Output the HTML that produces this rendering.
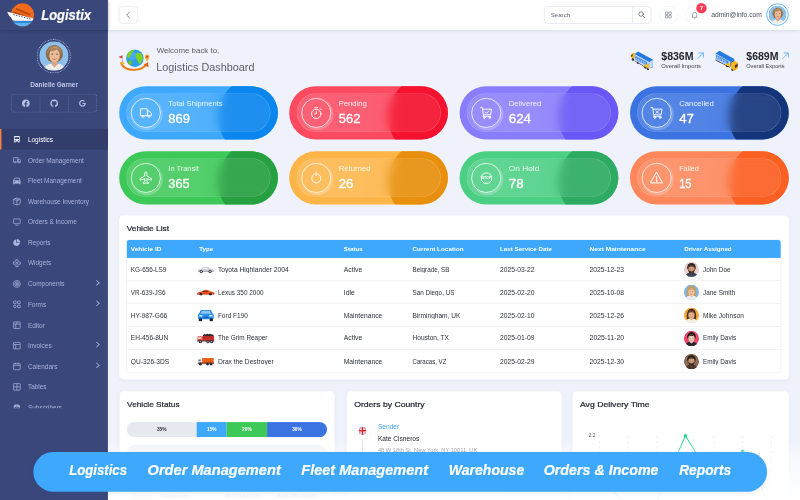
<!DOCTYPE html>
<html lang="en">
<head>
<meta charset="utf-8">
<title>Logistix - Logistics Dashboard</title>
<style>
*{box-sizing:border-box;margin:0;padding:0}
html,body{width:800px;height:500px;overflow:hidden;background:#eff2fb}
body{font-family:"Liberation Sans",sans-serif;color:#2b2f3a}
#stage{position:absolute;left:0;top:0;width:1920px;height:1200px;transform:scale(0.4166667);transform-origin:0 0;background:#eff2fb;overflow:hidden}
.abs{position:absolute}
u{text-decoration:none;display:inline-block;transform-origin:0 50%;white-space:nowrap}
u.ctr{transform-origin:50% 50%}
/* sidebar */
#sidebar{position:absolute;left:0;top:0;width:259.200px;height:1200px;background:#39477b;z-index:5}
#brand{position:absolute;left:0;top:0;width:259.200px;height:72px;box-shadow:0 3px 8px rgba(20,25,60,.35)}
#brand .name{position:absolute;left:99px;top:15px;line-height:40px;font-size:34px;-webkit-text-stroke:.5px #fff;font-weight:700;font-style:italic;color:#fff;}
#header{position:absolute;left:259.200px;top:0;width:1660.800px;height:72px;background:#fff;box-shadow:0 3px 10px rgba(120,130,170,.28);z-index:4}
.pring{position:absolute;left:88.300px;top:93.600px;width:82px;height:82px;border-radius:50%;border:2.600px dotted rgba(225,230,255,.85)}
.pface{position:absolute;left:94px;top:99.200px;width:70.800px;height:70.800px;border-radius:50%;overflow:hidden}
.pname{position:absolute;left:0;width:260px;top:191.200px;text-align:center;font-size:16.500px;font-weight:700;color:#c3caea;line-height:22px}
.social{position:absolute;left:27px;top:225px;width:206px;height:45px;border:2px dotted rgba(190,200,240,.32);border-radius:8px;display:flex}
.social span{flex:1;display:flex;align-items:center;justify-content:center;border-right:2px dotted rgba(190,200,240,.32)}
.social span:last-child{border-right:0}
.menuclip{position:absolute;left:0;top:309px;width:259.200px;height:671px;overflow:hidden}
.menu{list-style:none}
.menu li{position:relative;height:49.500px;display:flex;align-items:center;padding-left:30px;border-left:0 solid transparent;color:#a9b3de;font-size:15.500px}
.menu li svg{width:21px;height:21px;flex:none;position:relative;top:1px}
.menu li b{font-weight:400;margin-left:16px;white-space:nowrap;position:relative;top:1.500px}
.menu li.act{background:#323d6c;color:#fff;box-shadow:inset 3.500px 0 0 #f5813f}
.menu li.act b{font-weight:400}
.chev{position:absolute;left:227px;top:18px;width:10px;height:10px;border-right:2px solid #a9b3de;border-top:2px solid #a9b3de;transform:rotate(45deg)}
.tgl{position:absolute;left:26.3px;top:14.500px;width:45px;height:42px;border:1.500px solid #cdd3e3;border-radius:9px;display:flex;align-items:center;justify-content:center}
.search{position:absolute;left:1047.3px;top:14.500px;width:257px;height:42px;border:1.500px solid #c6cee2;border-radius:9px}
.search .ph{position:absolute;left:15px;top:0;line-height:39px;font-size:14.500px;color:#5d6272}
.search .sbtn{position:absolute;right:0;top:0;width:45px;height:39px;border-left:1.500px solid #cdd4e6;display:flex;align-items:center;justify-content:center}
.hbtn{position:absolute;top:14px;width:44px;height:44px;border-radius:50%;border:1.500px dashed #c6ccdb;display:flex;align-items:center;justify-content:center}
.badge{position:absolute;left:1411.8px;top:6.500px;width:25px;height:25px;border-radius:50%;background:#fb3e54;color:#fff;font-size:13px;font-weight:700;text-align:center;line-height:25px}
.mail{position:absolute;left:1448.3px;top:0;line-height:70px;font-size:15.500px;color:#4a4f5e;white-space:nowrap}
.uring{position:absolute;left:1579.8px;top:7.500px;width:54px;height:54px;border-radius:50%;border:2px solid #46a8f7;background:#fff}
.uface{position:absolute;left:1584.8px;top:12.500px;width:44px;height:44px;border-radius:50%;overflow:hidden}
#main{position:absolute;left:0;top:0;width:1920px;height:1200px}
.wb{position:absolute;left:376px;top:106px;font-size:18.500px;line-height:28px;color:#585d6a;white-space:nowrap}
.ld{position:absolute;left:375px;top:142px;font-size:27.500px;line-height:38px;color:#585d6a;white-space:nowrap}
.sv{position:absolute;top:116px;font-size:26.500px;font-weight:700;line-height:36px;color:#23262f;white-space:nowrap}
.sl{position:absolute;top:150px;font-size:13.500px;line-height:20px;color:#3a3e4a;white-space:nowrap}
.arr{position:absolute;top:112px;font-size:26px;line-height:36px;color:#3fa5f7;font-family:"DejaVu Sans",sans-serif}
.sc{position:absolute;width:381px;height:128px;border-radius:64px;overflow:hidden}
.sc .blob{position:absolute;left:237px;top:-25px;width:196px;height:196px;border-radius:50%}
.sc .glass{position:absolute;left:17.500px;top:17.500px;width:346px;height:93px;border-radius:47px;border:1.500px solid rgba(255,255,255,.28);background:linear-gradient(to right,rgba(255,255,255,.13) 0,rgba(255,255,255,.12) 45%,rgba(255,255,255,.08) 75%,rgba(255,255,255,.08) 100%);-webkit-backdrop-filter:blur(12px);backdrop-filter:blur(12px)}
.sc .ic{position:absolute;left:10px;top:10px;width:72px;height:72px;border-radius:50%;border:2.100px solid rgba(255,255,255,.9);box-shadow:2.500px 3px 0 2.500px rgba(255,255,255,.22);display:flex;align-items:center;justify-content:center}
.sc .tx{position:absolute;left:99.800px;top:10.500px;color:#fff;white-space:nowrap}
.sc .tx span{display:block;font-size:18.300px;line-height:26px;color:rgba(255,255,255,.88)}
.sc .tx strong{display:block;font-size:31.500px;line-height:40px;font-weight:400;-webkit-text-stroke:.800px #fff;margin-top:3.500px}
.c1{background:#3ea8fc}.c1 .blob{background:#0b86ee}
.c2{background:#fc4a61}.c2 .blob{background:#f4122e}
.c3{background:#8a7dfb}.c3 .blob{background:#6a58f6}
.c4{background:#3b74e2}.c4 .blob{background:#15357a}
.c5{background:#3dc958}.c5 .blob{background:#26a041}
.c6{background:#fdb548}.c6 .blob{background:#e8900d}
.c7{background:#4bcf83}.c7 .blob{background:#2dab62}
.c8{background:#fd865a}.c8 .blob{background:#fb5f22}
.card{position:absolute;background:#fff;border-radius:10px;box-shadow:0 2px 8px rgba(150,160,200,.10)}
.ct{position:absolute;left:18px;top:17px;font-size:19px;font-weight:400;-webkit-text-stroke:.550px #23262f;line-height:28px;color:#23262f;white-space:nowrap}
.tcard{left:285.600px;top:517px;width:1608px;height:394px}
.tbl{position:absolute;left:17px;top:58px;width:1572.500px;height:319.500px;border:1.500px solid #dfe3ec;border-radius:8px;overflow:hidden}
.th{position:relative;height:42.500px;background:#3ea8fc;color:#fff;font-weight:700;font-size:15px}
.tr{position:relative;height:55.100px;border-bottom:1.500px solid #dfe3ec;font-size:15.800px;color:#2d303a}
.tr:last-child{border-bottom:0}
.th span,.tr span{position:absolute;top:0;height:100%;display:flex;align-items:center;white-space:nowrap}
.k1{left:10.500px}.k2{left:174px}.k3{left:521px}.k4{left:686px}.k5{left:896px}.k6{left:1111px}.k7{left:1338px}
.tr span{padding-top:2.400px}
.car{display:inline-flex;width:42px;height:30px;align-items:center;justify-content:center;margin-right:8px;margin-left:-5px}
.av{display:inline-block;width:37px;height:37px;border-radius:50%;overflow:hidden;margin-right:9px;margin-left:-.500px}
.pbar{position:absolute;left:17.500px;top:74px;width:481px;height:36px;border-radius:18px;overflow:hidden;display:flex}
.pbar span{display:block;height:36px;line-height:36px;text-align:center;color:#fff;font-size:11.500px;font-weight:700}
.gbox{position:absolute;left:17.500px;top:128px;width:481px;height:200px;border-radius:24px;background:#f0f2f6}
.flag{position:absolute;left:18px;top:75px;width:41px;height:41px;border-radius:50%;border:1.500px dashed #d3d8e4;display:flex;align-items:center;justify-content:center;background:#fff}
.vline{position:absolute;left:37.500px;top:116px;width:1.500px;height:200px;background:#d9dde8}
.o1{position:absolute;left:75px;top:74px;font-size:15.300px;line-height:22px;color:#3ea0f5;white-space:nowrap}
.o2{position:absolute;left:75px;top:103px;font-size:15.300px;line-height:22px;color:#23262f;white-space:nowrap}
.o3{position:absolute;left:75px;top:132px;font-size:13.800px;line-height:20px;color:#7a7f8c;white-space:nowrap}
.fade{position:absolute;left:260px;top:1056px;width:1660px;height:144px;background:linear-gradient(to bottom,rgba(255,255,255,0) 0,rgba(255,255,255,.5) 28%,rgba(255,255,255,.88) 80%,rgba(255,255,255,.93) 100%);z-index:3}
.gbox .gi{position:absolute;left:14px;top:96px;width:50px;height:50px;border-radius:50%;background:#fbd3da}
.gbox span{position:absolute;top:112px;font-size:15px;line-height:22px;color:#5d6272;white-space:nowrap}
#banner{position:absolute;left:79.500px;top:1085px;width:1761px;height:95px;border-radius:48px;background:#3ea8fc;z-index:10;color:#fff;font-size:34.500px;-webkit-text-stroke:.500px #fff;font-weight:700;font-style:italic;white-space:nowrap;box-shadow:0 4px 10px rgba(60,90,160,.10)}
#banner span{position:absolute;top:0;line-height:89px}

</style>
</head>
<body>
<div id="stage">
<div id="sidebar">
  <div id="brand">
    <svg class="abs" style="left:17px;top:6px" width="68" height="60" viewBox="0 0 68 60">
      <defs><clipPath id="lgc"><circle cx="37" cy="29.500" r="27.700"/></clipPath></defs>
      <g clip-path="url(#lgc)">
        <rect x="0" y="0" width="68" height="60" fill="#f26a1b"/>
        <path d="M22 13l34 14v5L20 17z" fill="#b8470c"/>
        <path d="M16 21l44 17v4L14 25z" fill="#b8470c"/>
        <rect x="0" y="43" width="68" height="7" fill="#2b86dc"/>
        <rect x="0" y="49" width="68" height="12" fill="#58b4f5"/>
        <path d="M0 22L66 39v5H19Q6 41 0 22z" fill="#fff"/>
        <path d="M9 27.500L58 40" stroke="#39457a" stroke-width="2.200" stroke-dasharray="3.500 3"/>
      </g>
      <path d="M0 22L14 25.600 12 38Q4 33 0 22z" fill="#fff"/>
    </svg>
    <div class="name"><u style="transform:scaleX(0.9151)">Logistix</u></div>
  </div>
  <div class="pring"></div>
  <div class="pface">
    <svg width="70.800" height="70.800" viewBox="0 0 70 70"><circle cx="35" cy="35" r="35" fill="#8ec0ec"/>
      <ellipse cx="36" cy="30" rx="20.500" ry="21" fill="#8c6c4a"/>
      <path d="M30 46h13v12l-6.500 5L30 58z" fill="#dca381"/>
      <ellipse cx="36.500" cy="33.500" rx="12.500" ry="16.500" fill="#ebbc98"/>
      <path d="M19 34Q17 12 36 10Q56 11 54 33Q50 22 44 19Q34 25 25 22Q21 26 19 34z" fill="#a98459"/>
      <path d="M28 17Q37 11 46 17Q37 15 28 17z" fill="#c9aa7c"/>
      <ellipse cx="31" cy="30.500" rx="2" ry="1.300" fill="#4a3628"/><ellipse cx="42.500" cy="30.500" rx="2" ry="1.300" fill="#4a3628"/>
      <path d="M30 39.500Q36.500 48 43.500 39.500Q36.500 42 30 39.500z" fill="#d1263b"/>
      <path d="M32 40.500Q36.500 42.500 41.500 40.500Q36.500 45 32 40.500z" fill="#fff"/>
      <path d="M9 70Q12 56 28 53.500L36.500 62 45 53.500Q60 56 63 70z" fill="#f2eee9"/>
      <path d="M14 62l3 2M20 58l2 3M52 58l-2 3M57 62l-3 2M25 65l2 2M47 65l-2 2" stroke="#8fb0d8" stroke-width="1.500"/>
    </svg>
  </div>
  <div class="pname"><u class="ctr" style="transform:scaleX(0.9365)">Danielle Garner</u></div>
  <div class="social">
    <span><svg width="22" height="22" viewBox="0 0 24 24"><path fill="#b9c2ea" d="M12 2a10 10 0 0 0-1.56 19.88v-6.99H7.9V12h2.54V9.8c0-2.5 1.49-3.89 3.78-3.89 1.09 0 2.24.2 2.24.2v2.46h-1.26c-1.24 0-1.63.77-1.63 1.56V12h2.77l-.44 2.89h-2.33v6.99A10 10 0 0 0 12 2z"/></svg></span>
    <span><svg width="22" height="22" viewBox="0 0 24 24"><path fill="#b9c2ea" d="M12 2a10 10 0 0 0-3.16 19.49c.5.09.68-.22.68-.48v-1.7c-2.78.6-3.37-1.34-3.37-1.34-.46-1.16-1.11-1.47-1.11-1.47-.91-.62.07-.6.07-.6 1 .07 1.53 1.03 1.53 1.03.89 1.52 2.34 1.08 2.91.83.09-.65.35-1.09.63-1.34-2.22-.25-4.55-1.11-4.55-4.94 0-1.09.39-1.98 1.03-2.68-.1-.25-.45-1.27.1-2.64 0 0 .84-.27 2.75 1.02a9.560 9.560 0 0 1 5 0c1.91-1.29 2.75-1.020 2.75-1.020.55 1.370.2 2.390.1 2.640.64.7 1.030 1.590 1.030 2.680 0 3.840-2.340 4.680-4.570 4.930.36.310.68.920.68 1.850v2.750c0 .27.180.58.690.48A10 10 0 0 0 12 2z"/></svg></span>
    <span><svg width="22" height="22" viewBox="0 0 24 24"><path fill="#b9c2ea" d="M12 11v2.800h5.200c-.5 2.300-2.400 4-5.200 4a5.800 5.800 0 1 1 3.800-10.200l2.100-2.100A8.800 8.800 0 1 0 12 20.800c5.100 0 8.600-3.600 8.600-8.600 0-.4 0-.8-.1-1.200z"/></svg></span>
  </div>
  <div class="menuclip"><ul class="menu">
    <li class="act"><svg viewBox="0 0 24 24"><path fill="#e6e9f7" d="M5 3h14a1 1 0 0 1 1 1v13a1 1 0 0 1-1 1v2a1 1 0 0 1-1 1h-1a1 1 0 0 1-1-1v-2H8v2a1 1 0 0 1-1 1H6a1 1 0 0 1-1-1v-2a1 1 0 0 1-1-1V4a1 1 0 0 1 1-1zm1 3v5h12V6zm1.500 10a1.500 1.500 0 1 0 0-3 1.500 1.500 0 0 0 0 3zm9 0a1.500 1.500 0 1 0 0-3 1.500 1.500 0 0 0 0 3z"/></svg><b>Logistics</b></li>
    <li><svg viewBox="0 0 24 24" fill="none" stroke="#a9b3de" stroke-width="2"><path d="M3 5h12v12H3zM15 9h4l3 4v4h-7z"/><circle cx="7" cy="18" r="2" fill="#39477b"/><circle cx="18" cy="18" r="2" fill="#39477b"/></svg><b>Order Management</b></li>
    <li><svg viewBox="0 0 24 24"><path fill="#a9b3de" d="M19 20H5v1a1 1 0 0 1-1 1H3a1 1 0 0 1-1-1V11l2.480-5.790A2 2 0 0 1 6.320 4h11.360a2 2 0 0 1 1.840 1.210L22 11v10a1 1 0 0 1-1 1h-1a1 1 0 0 1-1-1zM4.180 11h15.640l-2.140-5H6.320zM6.500 16a1.500 1.500 0 1 0 0-3 1.500 1.500 0 0 0 0 3zm11 0a1.500 1.500 0 1 0 0-3 1.500 1.500 0 0 0 0 3z"/></svg><b>Fleet Management</b></li>
    <li><svg viewBox="0 0 24 24" fill="none" stroke="#a9b3de" stroke-width="2" stroke-linejoin="round"><path d="M12 2l9 4v12l-9 4-9-4V6zM3 6l9 4 9-4M12 10v12M7.500 4l9 4"/></svg><b>Warehouse Inventory</b></li>
    <li><svg viewBox="0 0 24 24" fill="none" stroke="#a9b3de" stroke-width="2" stroke-linejoin="round"><rect x="3" y="4" width="18" height="13" rx="1"/><path d="M8 21h8"/></svg><b>Orders &amp; Income</b></li>
    <li><svg viewBox="0 0 24 24"><path fill="#a9b3de" d="M11 2.050V13h10.950c-.5 5.050-4.760 9-9.950 9-5.520 0-10-4.480-10-10 0-5.190 3.950-9.450 9-9.950zM13 .540C18.550 1.020 22.980 5.450 23.460 11H13z" transform="translate(0 1) scale(.92)"/></svg><b>Reports</b></li>
    <li><svg viewBox="0 0 24 24" fill="none" stroke="#a9b3de" stroke-width="2" stroke-linejoin="round"><path d="M9 2.500h6v4l2.500 2.500h4v6h-4L15 17.500v4H9v-4L6.500 15h-4V9h4L9 6.500z"/><circle cx="12" cy="12" r="2.800"/></svg><b>Widgets</b></li>
    <li><svg viewBox="0 0 24 24" fill="none" stroke="#a9b3de" stroke-width="2"><circle cx="12" cy="12" r="9.500"/><circle cx="12" cy="12" r="5.500"/><circle cx="12" cy="12" r="1.800" fill="#a9b3de"/></svg><b>Components</b><i class="chev"></i></li>
    <li><svg viewBox="0 0 24 24" fill="none" stroke="#a9b3de" stroke-width="2"><rect x="3" y="3" width="7" height="7" rx="1"/><rect x="14" y="3" width="7" height="7" rx="1"/><circle cx="6.500" cy="17.500" r="3.500"/><rect x="14" y="14" width="7" height="7" rx="1"/></svg><b>Forms</b><i class="chev"></i></li>
    <li><svg viewBox="0 0 24 24" fill="none" stroke="#a9b3de" stroke-width="2"><rect x="3" y="3" width="18" height="18" rx="1"/><path d="M3 9h18M9 9v12M12 3v6"/></svg><b>Editor</b></li>
    <li><svg viewBox="0 0 24 24" fill="none" stroke="#a9b3de" stroke-width="2"><rect x="3" y="3" width="18" height="18" rx="1"/><path d="M3 9h18M9 9v12"/></svg><b>Invoices</b><i class="chev"></i></li>
    <li><svg viewBox="0 0 24 24" fill="none" stroke="#a9b3de" stroke-width="2"><rect x="3" y="4" width="18" height="17" rx="1"/><path d="M3 9h18M8 2v4M16 2v4"/></svg><b>Calendars</b><i class="chev"></i></li>
    <li><svg viewBox="0 0 24 24" fill="none" stroke="#a9b3de" stroke-width="2"><rect x="3" y="3" width="18" height="18" rx="1"/><path d="M3 12h18M12 3v18"/></svg><b>Tables</b></li>
    <li><svg viewBox="0 0 24 24"><path fill="#a9b3de" d="M2 19.500h20V22H2zM12 2.500a9 9 0 0 1 9 9V18H3v-6.500a9 9 0 0 1 9-9z"/><path d="M8.300 9v9M15.700 9v9M12 3v15M3.500 11.500h17" stroke="#39477b" stroke-width="1.400"/></svg><b>Subscribers</b></li>
  </ul></div>
</div>

<div id="header">
  <div class="tgl"><svg width="16" height="20" viewBox="0 0 16 20" fill="none" stroke="#6b7080" stroke-width="2" stroke-linecap="round" stroke-linejoin="round"><path d="M11 3L4 10l7 7"/></svg></div>
  <div class="search"><span class="ph"><u style="transform:scaleX(1.0028)">Search</u></span><span class="sbtn"><svg width="20" height="20" viewBox="0 0 24 24" fill="none" stroke="#555b6b" stroke-width="2" stroke-linecap="round"><circle cx="10.500" cy="10.500" r="6.500"/><path d="M15.500 15.500L21 21"/></svg></span></div>
  <div class="hbtn" style="left:1322.8px"><svg width="20" height="20" viewBox="0 0 24 24" fill="none" stroke="#7b8090" stroke-width="2"><rect x="3.500" y="3.500" width="7" height="7" rx="1"/><rect x="13.500" y="3.500" width="7" height="7" rx="1"/><rect x="3.500" y="13.500" width="7" height="7" rx="1"/><rect x="13.500" y="13.500" width="7" height="7" rx="1"/></svg></div>
  <div class="hbtn" style="left:1385.8px"><svg width="20" height="20" viewBox="0 0 24 24" fill="none" stroke="#7b8090" stroke-width="2" stroke-linejoin="round"><path d="M6 17V10.500a6 6 0 0 1 12 0V17l1.500 1.500h-15zM10 21h4"/></svg></div>
  <div class="badge">7</div>
  <div class="mail"><u style="transform:scaleX(1.0442)">admin@info.com</u></div>
  <div class="uring"></div>
  <div class="uface"><svg width="44" height="44" viewBox="0 0 70 70"><circle cx="35" cy="35" r="35" fill="#8ec0ec"/>
      <ellipse cx="36" cy="30" rx="20.500" ry="21" fill="#8c6c4a"/>
      <path d="M30 46h13v12l-6.500 5L30 58z" fill="#dca381"/>
      <ellipse cx="36.500" cy="33.500" rx="12.500" ry="16.500" fill="#ebbc98"/>
      <path d="M19 34Q17 12 36 10Q56 11 54 33Q50 22 44 19Q34 25 25 22Q21 26 19 34z" fill="#a98459"/>
      <path d="M28 17Q37 11 46 17Q37 15 28 17z" fill="#c9aa7c"/>
      <ellipse cx="31" cy="30.500" rx="2" ry="1.300" fill="#4a3628"/><ellipse cx="42.500" cy="30.500" rx="2" ry="1.300" fill="#4a3628"/>
      <path d="M30 39.500Q36.500 48 43.500 39.500Q36.500 42 30 39.500z" fill="#d1263b"/>
      <path d="M32 40.500Q36.500 42.500 41.500 40.500Q36.500 45 32 40.500z" fill="#fff"/>
      <path d="M9 70Q12 56 28 53.500L36.500 62 45 53.500Q60 56 63 70z" fill="#f2eee9"/>
      <path d="M14 62l3 2M20 58l2 3M52 58l-2 3M57 62l-3 2M25 65l2 2M47 65l-2 2" stroke="#8fb0d8" stroke-width="1.500"/></svg></div>
</div>

<div id="main">
  <!-- page title -->
  <svg class="abs" style="left:283px;top:112px" width="80" height="64" viewBox="0 0 80 64">
    <path d="M7.600 39.400Q14 56 39.600 55.800Q60 55 68 43" fill="none" stroke="#e8760f" stroke-width="4.500" stroke-linecap="round"/>
    <path d="M72.500 36.500l1 13-12.500-5.500z" fill="#e0650c"/>
    <circle cx="40.800" cy="27.600" r="21" fill="#2f9cec"/>
    <circle cx="35" cy="22" r="10" fill="#5cb8f5" opacity=".55"/>
    <path d="M27 13q7-6 13-5q-2 5-7 6q1 4-3 7q-1 6-6 7q-3-3-2-8q2-4 5-7z" fill="#7dd321"/>
    <path d="M43 17q7-5 13 0q5 6 4 14q-3 3-5 8q-4 4-7-1q0-5-3-8q-4-6-2-13z" fill="#7dd321"/>
    <path d="M27 33q5-1 7 4q0 6-4 8q-4-2-5-6q0-4 2-6z" fill="#6bc71c"/>
    <path d="M11 20v19" stroke="#b9bfcc" stroke-width="3"/>
    <path d="M10 21L1 24.500 10 28z" fill="#e23a2e"/>
    <ellipse cx="11" cy="40" rx="5" ry="2.500" fill="#f0b21d"/>
    <circle cx="70" cy="24" r="5.500" fill="#f5a623"/><path d="M65.500 27L70 36l4.500-9z" fill="#f5a623"/><circle cx="70" cy="24" r="2.300" fill="#e23a2e"/>
  </svg>
  <div class="wb"><u style="transform:scaleX(1.0241)">Welcome back to,</u></div>
  <div class="ld"><u style="transform:scaleX(0.9459)">Logistics Dashboard</u></div>
  <!-- top stats -->
  <svg class="abs trk" style="left:1510px;top:118px" width="62" height="56" viewBox="0 0 62 56">
    <ellipse cx="9" cy="24.500" rx="3" ry="3.500" fill="#3a2c3a"/><ellipse cx="21" cy="32" rx="3" ry="3.500" fill="#3a2c3a"/><ellipse cx="39" cy="43.500" rx="3" ry="3.500" fill="#3a2c3a"/><ellipse cx="45" cy="47" rx="3" ry="3.500" fill="#3a2c3a"/><ellipse cx="54" cy="42" rx="2.500" ry="3" fill="#3a2c3a"/>
    <path d="M13 26.500L47.600 47.600v2L13 28.500z" fill="#4a3540"/>
    <path d="M3.500 14L10.500 8l5 2.500V25L3.500 19.500z" fill="#f5b81f"/>
    <path d="M4.500 14.500l4-3v5l-4 2z" fill="#5a3d2a"/>
    <path d="M21.200 5.400L57.700 25.500 48.600 31.500 13 12.300z" fill="#2679e0"/>
    <path d="M13 12.300L48.600 31.500V47.600L13 26.500z" fill="#b5d3f6"/>
    <path d="M15 16.500l28 15v8.500l-28-15z" fill="#3f86e2"/><path d="M18 20v6M22 22v6.500M26 24.500v6M30 26.500v6.500M34 28.500v6.500M38 31v6" stroke="#d9e9fb" stroke-width="1.600"/>
    <path d="M33 39l15.600-5.500V47.600z" fill="#f2c029"/>
    <path d="M48.600 31.500L57.700 25.500V41.400L48.600 47.600z" fill="#a9cff3"/>
    <path d="M51.500 29.700v16M54.600 27.600v16" stroke="#d5e8fa" stroke-width="1.300"/>
  </svg>
  <div class="sv" style="left:1586.500px"><u style="transform:scaleX(0.9567)">$836M</u></div><svg class="abs" style="left:1672px;top:125px" width="18" height="18" viewBox="0 0 18 18" fill="none" stroke="#4aaaf8" stroke-width="1.900" stroke-linecap="round" stroke-linejoin="round"><path d="M2 16L16 2M5.500 2H16v10.500"/></svg>
  <div class="sl" style="left:1586.500px"><u style="transform:scaleX(1.0436)">Overall Imports</u></div>
  <svg class="abs trk" style="left:1712px;top:116px" width="64" height="58" viewBox="0 0 64 58">
    <ellipse cx="9" cy="27.500" rx="3" ry="3.500" fill="#3a2c3a"/><ellipse cx="14.500" cy="30.500" rx="3" ry="3.500" fill="#3a2c3a"/><ellipse cx="33" cy="42" rx="3" ry="3.500" fill="#3a2c3a"/><ellipse cx="46" cy="51" rx="3" ry="3.500" fill="#3a2c3a"/>
    <path d="M5.500 27L40.200 44v2.500L5.500 29z" fill="#4a3540"/>
    <path d="M14.800 5.700L50.300 25.800 41 32.600 5 12.600z" fill="#2679e0"/>
    <path d="M5 12.600L41 32.600V44.500L5.500 27.300z" fill="#b5d3f6"/>
    <path d="M7 15.500l29 15.500v8L7 24.500z" fill="#3f86e2"/><path d="M10 19v6M14 21v6.500M18 23.500v6M22 25.500v6.500M26 27.500v6.500M30 30v6" stroke="#d9e9fb" stroke-width="1.600"/>
    <path d="M27 38l14-3.500V44.500z" fill="#f2c029"/>
    <path d="M41 32.600L50.300 25.800V36l-9.300 8.500z" fill="#1d5fc0"/>
    <path d="M42.500 35L50.500 29.500 59 34.500V47l-8.500 6L42.500 48.500z" fill="#f5b81f"/>
    <path d="M50.500 39.500L59 34.500V47l-8.500 6z" fill="#f0a513"/>
    <path d="M52 40.500l6-3.500v6.500l-6 3.500z" fill="#4a2f3a"/>
  </svg>
  <div class="sv" style="left:1790.500px"><u style="transform:scaleX(0.9567)">$689M</u></div><svg class="abs" style="left:1875.500px;top:125px" width="18" height="18" viewBox="0 0 18 18" fill="none" stroke="#4aaaf8" stroke-width="1.900" stroke-linecap="round" stroke-linejoin="round"><path d="M2 16L16 2M5.500 2H16v10.500"/></svg>
  <div class="sl" style="left:1790.500px"><u style="transform:scaleX(0.9961)">Overall Exports</u></div>
<div class="sc c1" style="left:285.6px;top:206.5px"><div class="blob"></div><div class="glass"><div class="ic"><svg width="36" height="36" viewBox="0 0 24 24" fill="none" stroke="#fff" stroke-width="1.500" stroke-linejoin="round"><path d="M3.500 5.500h11v11h-11zM14.500 9h3.200l3 3.600v3.900h-6.200z"/><circle cx="7.500" cy="17.500" r="1.600" fill="none"/><circle cx="17" cy="17.500" r="1.600"/></svg></div><div class="tx"><span><u style="transform:scaleX(1.0009)">Total Shipments</u></span><strong><u style="transform:scaleX(0.9863)">869</u></strong></div></div></div>
<div class="sc c2" style="left:694.25px;top:206.5px"><div class="blob"></div><div class="glass"><div class="ic"><svg width="36" height="36" viewBox="0 0 24 24" fill="none" stroke="#fff" stroke-width="1.500" stroke-linecap="round"><circle cx="12" cy="13.500" r="7.500"/><path d="M12 9.500v4.200h-2.500M10 3.500h4M18.500 5.500l1.500 1.500"/></svg></div><div class="tx"><span><u style="transform:scaleX(1.0052)">Pending</u></span><strong><u style="transform:scaleX(0.9863)">562</u></strong></div></div></div>
<div class="sc c3" style="left:1102.9px;top:206.5px"><div class="blob"></div><div class="glass"><div class="ic"><svg width="36" height="36" viewBox="0 0 24 24" fill="none" stroke="#fff" stroke-width="1.500" stroke-linecap="round" stroke-linejoin="round"><path d="M3 3.500h2.500l1 2.500M6.500 6h14l-1.500 9h-11zM8 15l-1 2.500h12"/><path d="M10.500 10.500l2 2 3.500-3.500"/><circle cx="9" cy="19.500" r="1.400"/><circle cx="17.500" cy="19.500" r="1.400"/></svg></div><div class="tx"><span><u style="transform:scaleX(1.0130)">Delivered</u></span><strong><u style="transform:scaleX(1.0137)">624</u></strong></div></div></div>
<div class="sc c4" style="left:1511.5px;top:206.5px"><div class="blob"></div><div class="glass"><div class="ic"><svg width="36" height="36" viewBox="0 0 24 24" fill="none" stroke="#fff" stroke-width="1.500" stroke-linecap="round" stroke-linejoin="round"><path d="M3 3.500h2.500l1 2.500M6.500 6h14l-1.500 9h-11zM8 15l-1 2.500h12"/><path d="M11 8.500l4 4M15 8.500l-4 4"/><circle cx="9" cy="19.500" r="1.400"/><circle cx="17.500" cy="19.500" r="1.400"/></svg></div><div class="tx"><span><u style="transform:scaleX(1.0212)">Cancelled</u></span><strong><u style="transform:scaleX(1.0067)">47</u></strong></div></div></div>
<div class="sc c5" style="left:285.6px;top:362.5px"><div class="blob"></div><div class="glass"><div class="ic"><svg width="36" height="36" viewBox="0 0 24 24" fill="none" stroke="#fff" stroke-width="1.500" stroke-linejoin="round"><path d="M12 2.500c1 0 1.700.8 1.700 2v4.300l7.300 4.400v2.300l-7.300-2.200v4.200l2.300 1.700v1.800L12 20l-4 1v-1.800l2.300-1.700v-4.200L3 15.500v-2.300l7.300-4.400V4.500c0-1.200.7-2 1.700-2z"/></svg></div><div class="tx"><span><u style="transform:scaleX(0.9736)">In Transit</u></span><strong><u style="transform:scaleX(0.9726)">365</u></strong></div></div></div>
<div class="sc c6" style="left:694.25px;top:362.5px"><div class="blob"></div><div class="glass"><div class="ic"><svg width="36" height="36" viewBox="0 0 24 24" fill="none" stroke="#fff" stroke-width="1.500" stroke-linecap="round" stroke-linejoin="round"><path d="M8.500 6.200A7.300 7.300 0 1 0 12 5.300"/><path d="M12.500 2.500L9.500 5.500l3 3"/></svg></div><div class="tx"><span><u style="transform:scaleX(1.0114)">Returned</u></span><strong><u style="transform:scaleX(1.0067)">26</u></strong></div></div></div>
<div class="sc c7" style="left:1102.9px;top:362.5px"><div class="blob"></div><div class="glass"><div class="ic"><svg width="31" height="31" viewBox="0 0 24 24" fill="none" stroke="#fff" stroke-width="1.700" stroke-linejoin="round"><path d="M8 2.500h8l5.500 5.500v8L16 21.500H8L2.500 16V8z"/><text x="12" y="14.300" font-family="Liberation Sans, sans-serif" font-size="6.500" font-weight="700" text-anchor="middle" fill="#fff" stroke="none">STOP</text></svg></div><div class="tx"><span><u style="transform:scaleX(1.0948)">On Hold</u></span><strong><u style="transform:scaleX(1.0203)">78</u></strong></div></div></div>
<div class="sc c8" style="left:1511.5px;top:362.5px"><div class="blob"></div><div class="glass"><div class="ic"><svg width="36" height="36" viewBox="0 0 24 24" fill="none" stroke="#fff" stroke-width="1.600" stroke-linejoin="round" stroke-linecap="round"><path d="M12 3.500L21.500 20h-19z"/><path d="M12 10v4.500"/><circle cx="12" cy="17" r=".6" fill="#fff"/></svg></div><div class="tx"><span><u style="transform:scaleX(0.9495)">Failed</u></span><strong><u style="transform:scaleX(0.8491)">15</u></strong></div></div></div>

<div class="card tcard"><div class="ct"><u style="transform:scaleX(1.0586)">Vehicle List</u></div>
<div class="tbl"><div class="th"><span class="k1"><u style="transform:scaleX(1.0328)">Vehicle ID</u></span><span class="k2"><u style="transform:scaleX(0.9910)">Type</u></span><span class="k3"><u style="transform:scaleX(0.9947)">Status</u></span><span class="k4"><u style="transform:scaleX(1.0129)">Current Location</u></span><span class="k5"><u style="transform:scaleX(0.9997)">Last Service Date</u></span><span class="k6"><u style="transform:scaleX(1.0537)">Next Maintenance</u></span><span class="k7"><u style="transform:scaleX(0.9956)">Driver Assigned</u></span></div>
<div class="tr"><span class="k1"><u style="transform:scaleX(0.9730)">KG-656-LS9</u></span><span class="k2"><i class="car"><svg width="40" height="18" viewBox="0 0 40 18"><path d="M1 11q1-3 8-4l5-4q7-1 12 0l5 4q6 0 8 3v3.500H1z" fill="#c9ccd3"/><path d="M14 4.500l-3.500 3.500h16l-3.500-3.500z" fill="#eef0f4"/><path d="M1 12h38v2H1z" fill="#9a9ea8"/><circle cx="9" cy="13.500" r="3.800" fill="#3b3e48"/><circle cx="30" cy="13.500" r="3.800" fill="#3b3e48"/><circle cx="9" cy="13.500" r="1.600" fill="#d5d8de"/><circle cx="30" cy="13.500" r="1.600" fill="#d5d8de"/></svg></i><u style="transform:scaleX(1.0182)">Toyota Highlander 2004</u></span><span class="k3"><u style="transform:scaleX(1.0318)">Active</u></span><span class="k4"><u style="transform:scaleX(0.9539)">Belgrade, SB</u></span><span class="k5"><u style="transform:scaleX(1.0246)">2025-03-22</u></span><span class="k6"><u style="transform:scaleX(1.0216)">2025-12-23</u></span><span class="k7"><i class="av"><svg width="37" height="37" viewBox="0 0 36 36"><circle cx="18" cy="18" r="18" fill="#ebd0cf"/><ellipse cx="18" cy="13.500" rx="10" ry="10.500" fill="#2b2320"/><path d="M3 36q2-9 11-10.500l4 3 4-3q9 1.500 11 10.500z" fill="#39465a"/><path d="M14.500 23h7v3.500l-3.500 3-3.500-3z" fill="#d9a07e"/><ellipse cx="18" cy="17.500" rx="7.300" ry="9" fill="#d9a07e"/><path d="M11 18q0 10 7 10.500q7-.500 7-10.500q-3 5-7 5q-4 0-7-5z" fill="#3a2c26"/><path d="M10.500 13q7.500-9 15 0q-7.500-3.500-15 0z" fill="#2b2320"/><ellipse cx="15" cy="17" rx="1" ry=".800" fill="#3a2a22"/><ellipse cx="21" cy="17" rx="1" ry=".800" fill="#3a2a22"/><path d="M15 22q3 2 6 0" stroke="#a8443a" stroke-width="1" fill="none"/></svg></i><u style="transform:scaleX(0.9831)">John Doe</u></span></div>
<div class="tr"><span class="k1"><u style="transform:scaleX(0.9678)">VR-639-JS6</u></span><span class="k2"><i class="car"><svg width="42" height="16" viewBox="0 0 42 16"><path d="M0 9q4-3 11-3.500l6-3.500q7-1 11 1l5 2.500q7 .500 9 3v3.500H0z" fill="#f0541e"/><path d="M16 3.500l-4.500 3h17l-4.500-3z" fill="#7a2a0c"/><path d="M0 11h42v1.500H0z" fill="#b93a0e"/><circle cx="9" cy="12" r="3.300" fill="#2c2e36"/><circle cx="32" cy="12" r="3.300" fill="#2c2e36"/></svg></i><u style="transform:scaleX(0.9733)">Lexus 350 2000</u></span><span class="k3"><u style="transform:scaleX(1.0548)">Idle</u></span><span class="k4"><u style="transform:scaleX(0.9646)">San Diego, US</u></span><span class="k5"><u style="transform:scaleX(1.0246)">2025-02-20</u></span><span class="k6"><u style="transform:scaleX(1.0216)">2025-10-08</u></span><span class="k7"><i class="av"><svg width="37" height="37" viewBox="0 0 36 36"><circle cx="18" cy="18" r="18" fill="#82b5e8"/><ellipse cx="18" cy="13.500" rx="10" ry="10.500" fill="#c79a55"/><path d="M7.500 14q-2 12 3 18h15q5-6 3-18z" fill="#c79a55"/><path d="M3 36q2-9 11-10.500l4 3 4-3q9 1.500 11 10.500z" fill="#e9eef5"/><path d="M14.500 23h7v3.500l-3.500 3-3.500-3z" fill="#f2c6a4"/><ellipse cx="18" cy="17.500" rx="7.300" ry="9" fill="#f2c6a4"/><path d="M10.500 13q7.500-9 15 0q-7.500-3.500-15 0z" fill="#c79a55"/><ellipse cx="15" cy="17" rx="1" ry=".800" fill="#3a2a22"/><ellipse cx="21" cy="17" rx="1" ry=".800" fill="#3a2a22"/><path d="M15 22q3 2 6 0" stroke="#a8443a" stroke-width="1" fill="none"/></svg></i><u style="transform:scaleX(0.9778)">Jane Smith</u></span></div>
<div class="tr"><span class="k1"><u style="transform:scaleX(1.0014)">HY-987-G66</u></span><span class="k2"><i class="car"><svg width="40" height="30" viewBox="0 0 40 30"><path d="M8 2h24l5 10H3z" fill="#1f7fe0"/><path d="M10 4h20l3.500 8h-27z" fill="#8cc6f5"/><rect x="1" y="11" width="38" height="13" rx="3.500" fill="#2a90ee"/><rect x="3" y="22" width="8" height="7" rx="1.500" fill="#23262f"/><rect x="29" y="22" width="8" height="7" rx="1.500" fill="#23262f"/><rect x="4" y="14" width="8" height="3.500" rx="1.500" fill="#d9ecfb"/><rect x="28" y="14" width="8" height="3.500" rx="1.500" fill="#d9ecfb"/><rect x="14" y="17.500" width="12" height="4" rx="1" fill="#1762b5"/></svg></i><u style="transform:scaleX(0.9845)">Ford F190</u></span><span class="k3"><u style="transform:scaleX(1.0240)">Maintenance</u></span><span class="k4"><u style="transform:scaleX(0.9997)">Birmingham, UK</u></span><span class="k5"><u style="transform:scaleX(1.0246)">2025-02-10</u></span><span class="k6"><u style="transform:scaleX(1.0216)">2025-12-26</u></span><span class="k7"><i class="av"><svg width="37" height="37" viewBox="0 0 36 36"><circle cx="18" cy="18" r="18" fill="#f6aa3a"/><ellipse cx="18" cy="13.500" rx="10" ry="10.500" fill="#4a2f1d"/><path d="M7.500 14q-2 12 3 18h15q5-6 3-18z" fill="#4a2f1d"/><path d="M3 36q2-9 11-10.500l4 3 4-3q9 1.500 11 10.500z" fill="#f6efe4"/><path d="M14.500 23h7v3.500l-3.500 3-3.500-3z" fill="#e8b48e"/><ellipse cx="18" cy="17.500" rx="7.300" ry="9" fill="#e8b48e"/><path d="M10.500 13q7.500-9 15 0q-7.500-3.500-15 0z" fill="#4a2f1d"/><ellipse cx="15" cy="17" rx="1" ry=".800" fill="#3a2a22"/><ellipse cx="21" cy="17" rx="1" ry=".800" fill="#3a2a22"/><path d="M15 22q3 2 6 0" stroke="#a8443a" stroke-width="1" fill="none"/></svg></i><u style="transform:scaleX(1.0071)">Mike Johnson</u></span></div>
<div class="tr"><span class="k1"><u style="transform:scaleX(0.9952)">EH-456-8UN</u></span><span class="k2"><i class="car"><svg width="42" height="26" viewBox="0 0 42 26"><path d="M14 6q3-5 7-2q3-4 7-1q4-3 7 1q4-1 5 3v3H14z" fill="#3a2826"/><path d="M12 8h29v11H12z" fill="#d9352b"/><path d="M14 10h25v2H14zM14 14h25v2H14z" fill="#b3261d"/><path d="M1 11q0-3 3-3h7v11H1z" fill="#e2463b"/><rect x="3" y="10" width="6" height="4.500" fill="#ffe3dc"/><rect x="0" y="18" width="42" height="2.500" fill="#5a1a16"/><circle cx="8" cy="21" r="4" fill="#2b2e38"/><circle cx="26" cy="21" r="4" fill="#2b2e38"/><circle cx="35" cy="21" r="4" fill="#2b2e38"/><circle cx="8" cy="21" r="1.600" fill="#c9ccd4"/><circle cx="26" cy="21" r="1.600" fill="#c9ccd4"/><circle cx="35" cy="21" r="1.600" fill="#c9ccd4"/></svg></i><u style="transform:scaleX(0.9735)">The Grim Reaper</u></span><span class="k3"><u style="transform:scaleX(1.0318)">Active</u></span><span class="k4"><u style="transform:scaleX(0.9982)">Houston, TX</u></span><span class="k5"><u style="transform:scaleX(1.0246)">2025-01-09</u></span><span class="k6"><u style="transform:scaleX(1.0367)">2025-11-20</u></span><span class="k7"><i class="av"><svg width="37" height="37" viewBox="0 0 36 36"><circle cx="18" cy="18" r="18" fill="#f1456b"/><ellipse cx="18" cy="13.500" rx="10" ry="10.500" fill="#23181a"/><path d="M3 36q2-9 11-10.500l4 3 4-3q9 1.500 11 10.500z" fill="#2a2630"/><path d="M14.500 23h7v3.500l-3.500 3-3.500-3z" fill="#f1cdb6"/><ellipse cx="18" cy="17.500" rx="7.300" ry="9" fill="#f1cdb6"/><path d="M10.500 13q7.500-9 15 0q-7.500-3.500-15 0z" fill="#23181a"/><ellipse cx="15" cy="17" rx="1" ry=".800" fill="#3a2a22"/><ellipse cx="21" cy="17" rx="1" ry=".800" fill="#3a2a22"/><path d="M15 22q3 2 6 0" stroke="#a8443a" stroke-width="1" fill="none"/></svg></i><u style="transform:scaleX(0.9685)">Emily Davis</u></span></div>
<div class="tr"><span class="k1"><u style="transform:scaleX(1.0093)">QU-326-3DS</u></span><span class="k2"><i class="car"><svg width="40" height="20" viewBox="0 0 40 20"><rect x="11" y="1" width="28" height="12" rx="1.500" fill="#f2661c"/><path d="M16 3v8M21 3v8M26 3v8M31 3v8" stroke="#c94f10" stroke-width="1.500"/><path d="M1 6q0-3 3-3h6v10H1z" fill="#e8e9ee"/><rect x="2.500" y="5" width="5" height="4" fill="#5a6a8a"/><rect x="0" y="12" width="40" height="3" fill="#8c3208"/><circle cx="7" cy="15.500" r="3.600" fill="#2b2e38"/><circle cx="24" cy="15.500" r="3.600" fill="#2b2e38"/><circle cx="32.500" cy="15.500" r="3.600" fill="#2b2e38"/></svg></i><u style="transform:scaleX(1.0084)">Drax the Destroyer</u></span><span class="k3"><u style="transform:scaleX(1.0240)">Maintenance</u></span><span class="k4"><u style="transform:scaleX(0.9267)">Caracas, VZ</u></span><span class="k5"><u style="transform:scaleX(1.0246)">2025-02-29</u></span><span class="k6"><u style="transform:scaleX(1.0216)">2025-12-30</u></span><span class="k7"><i class="av"><svg width="37" height="37" viewBox="0 0 36 36"><circle cx="18" cy="18" r="18" fill="#8b6c58"/><ellipse cx="18" cy="13.500" rx="10" ry="10.500" fill="#2e211b"/><path d="M3 36q2-9 11-10.500l4 3 4-3q9 1.500 11 10.500z" fill="#4a382e"/><path d="M14.500 23h7v3.500l-3.500 3-3.500-3z" fill="#cf9d78"/><ellipse cx="18" cy="17.500" rx="7.300" ry="9" fill="#cf9d78"/><path d="M11 18q0 10 7 10.500q7-.500 7-10.500q-3 5-7 5q-4 0-7-5z" fill="#3a2a22"/><path d="M10.500 13q7.500-9 15 0q-7.500-3.500-15 0z" fill="#2e211b"/><ellipse cx="15" cy="17" rx="1" ry=".800" fill="#3a2a22"/><ellipse cx="21" cy="17" rx="1" ry=".800" fill="#3a2a22"/><path d="M15 22q3 2 6 0" stroke="#a8443a" stroke-width="1" fill="none"/></svg></i><u style="transform:scaleX(0.9685)">Emily Davis</u></span></div>
</div></div>

<div class="card" style="left:286.500px;top:938.500px;width:516px;height:400px">
  <div class="ct"><u style="transform:scaleX(1.0463)">Vehicle Status</u></div>
  <div class="pbar"><span style="width:35%;background:#e6e9ef;color:#2d303a">35%</span><span style="width:15%;background:#3ea8fc">15%</span><span style="width:20%;background:#3dc958">20%</span><span style="width:30%;background:#3b74e2">30%</span></div>
  <div class="gbox"><i class="gi"></i><span style="left:82px">Deliveries</span><span style="left:235px">9876543210</span><span style="left:360px">ACK-DG-0092</span></div>
</div>
<div class="card" style="left:831.500px;top:938.500px;width:516px;height:400px">
  <div class="ct"><u style="transform:scaleX(1.0900)">Orders by Country</u></div>
  <div class="vline"></div>
  <div class="flag"><svg width="20" height="20" viewBox="0 0 24 24"><defs><clipPath id="fc"><circle cx="12" cy="12" r="11"/></clipPath></defs><g clip-path="url(#fc)"><rect width="24" height="24" fill="#2a3f8f"/><path d="M0 0l24 24M24 0L0 24" stroke="#fff" stroke-width="5"/><path d="M0 0l24 24M24 0L0 24" stroke="#d8253a" stroke-width="2"/><path d="M12 0v24M0 12h24" stroke="#fff" stroke-width="8"/><path d="M12 0v24M0 12h24" stroke="#d8253a" stroke-width="4.500"/></g></svg></div>
  <div class="o1"><u style="transform:scaleX(1.0363)">Sender</u></div>
  <div class="o2"><u style="transform:scaleX(1.0342)">Kate Cisneros</u></div>
  <div class="o3"><u style="transform:scaleX(0.9917)">48 W 18th St, New York, NY 10011, UK</u></div>
</div>
<div class="card" style="left:1374px;top:938.500px;width:518.500px;height:400px">
  <div class="ct"><u style="transform:scaleX(1.0934)">Avg Delivery Time</u></div>
  <svg class="abs" style="left:0;top:80px" width="518" height="200" viewBox="0 0 518 200">
    <g stroke="#e3e6f2" stroke-width="1.500" stroke-dasharray="6 6"><path d="M65 27v190M133.700 27v190M202.400 27v190M271 27v190M339.700 27v190M408.400 27v190M477 27v190"/></g>
    <text x="39" y="30" font-family="Liberation Sans, sans-serif" font-size="11.500" fill="#555a68">2.2</text>
    <path d="M65 120L133.700 200 202.400 184 271 27 339.700 138 408.400 64 477 200" fill="none" stroke="#35d695" stroke-width="2.500" stroke-linejoin="round"/>
    <circle cx="271" cy="27" r="4.200" fill="#2bcf8b"/><circle cx="408.400" cy="64" r="4.200" fill="#2bcf8b"/>
  </svg>
</div>
<div class="fade"></div>

</div>

<div id="banner">
<span style="left:86px"><u style="transform:scaleX(0.9159)">Logistics</u></span>
<span style="left:274.500px"><u style="transform:scaleX(1.0175)">Order Management</u></span>
<span style="left:643.500px"><u style="transform:scaleX(1.0111)">Fleet Management</u></span>
<span style="left:997px"><u style="transform:scaleX(0.9776)">Warehouse</u></span>
<span style="left:1225.500px"><u style="transform:scaleX(0.9910)">Orders &amp; Income</u></span>
<span style="left:1550px"><u style="transform:scaleX(0.9574)">Reports</u></span>
</div>

</div>
</body>
</html>
